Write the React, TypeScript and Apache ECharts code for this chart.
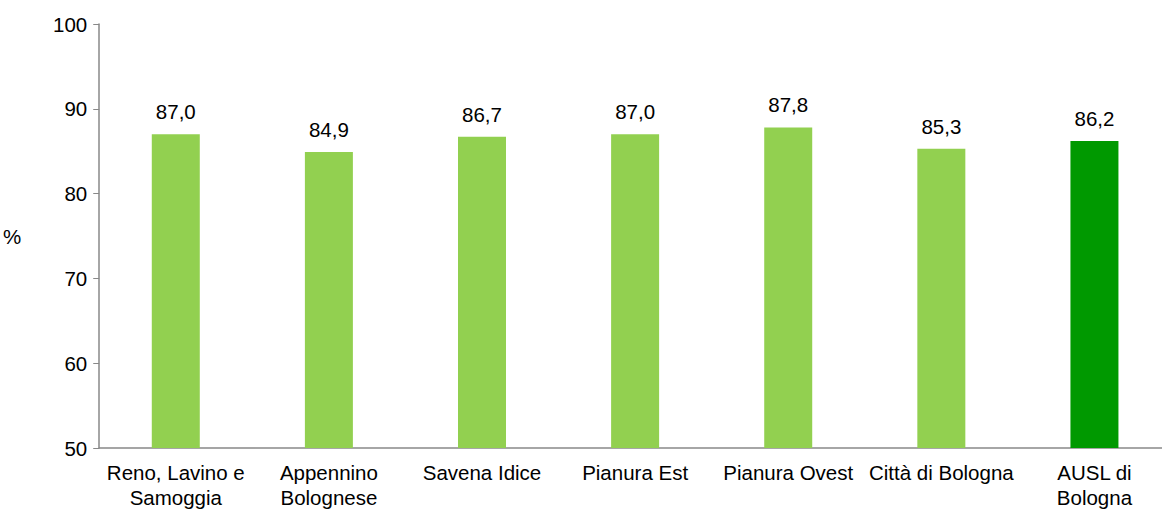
import * as echarts from "echarts";
import { useEffect, useRef } from "react";

const categories = [
    "Reno, Lavino e\nSamoggia",
    "Appennino\nBolognese",
    "Savena Idice",
    "Pianura Est",
    "Pianura Ovest",
    "Città di Bologna",
    "AUSL di\nBologna"
];
const values = [87.0, 84.9, 86.7, 87.0, 87.8, 85.3, 86.2];
const colors = ["#92D050", "#92D050", "#92D050", "#92D050", "#92D050", "#92D050", "#009900"];

export default function App() {
    const chartRef = useRef<HTMLDivElement>(null);

    useEffect(() => {
        if (!chartRef.current) return;
        document.body.style.margin = "0";
        document.body.style.overflow = "hidden";
        const chart = echarts.init(chartRef.current, undefined, { renderer: "svg" });
        const font = "'Liberation Sans', Arial, sans-serif";
        chart.setOption({
            animation: false,
            textStyle: { fontFamily: font },
            grid: { left: 96, right: 9, top: 24, bottom: 59 },
            xAxis: {
                type: "category",
                data: categories,
                axisLine: { lineStyle: { color: "#888", width: 1.5 } },
                axisTick: { show: false },
                axisLabel: { color: "#000", fontSize: 20.5, lineHeight: 25, margin: 12, interval: 0 }
            },
            yAxis: {
                type: "value",
                min: 50,
                max: 100,
                interval: 10,
                name: "%",
                nameLocation: "middle",
                nameRotate: 0,
                nameGap: 78,
                nameTextStyle: { color: "#000", fontSize: 20.5 },
                axisLine: { show: true, lineStyle: { color: "#888", width: 1.5 } },
                axisTick: { show: true, length: 6, lineStyle: { color: "#888" } },
                axisLabel: { color: "#000", fontSize: 20.5, margin: 12 },
                splitLine: { show: false }
            },
            series: [
                {
                    type: "bar",
                    barWidth: 48,
                    data: values.map((v, i) => ({ value: v, itemStyle: { color: colors[i] } })),
                    label: {
                        show: true,
                        position: "top",
                        distance: 12,
                        color: "#000",
                        fontSize: 20.5,
                        formatter: (p: any) => p.value.toFixed(1).replace(".", ",")
                    }
                }
            ]
        });
        return () => chart.dispose();
    }, []);

    return <div ref={chartRef} style={{ width: 1180, height: 510 }} />;
}
